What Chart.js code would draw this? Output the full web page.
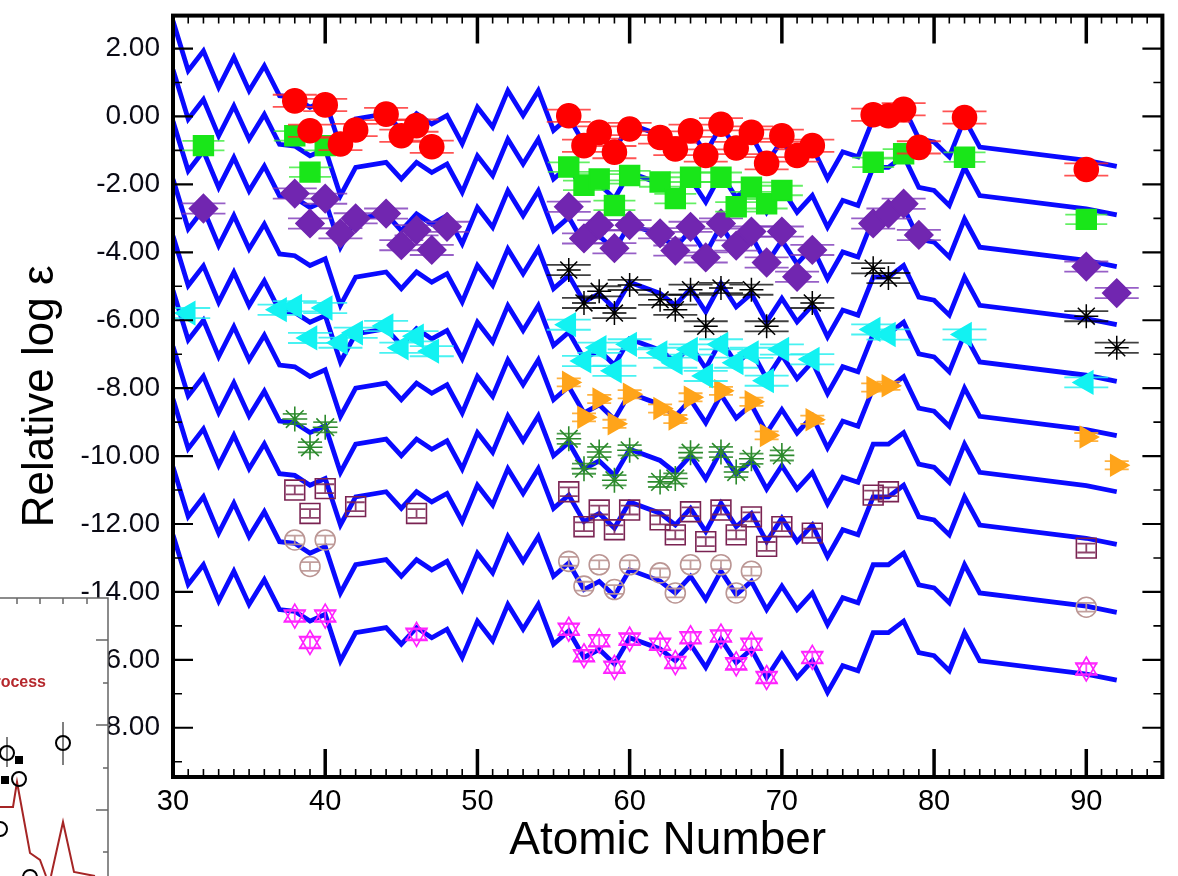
<!DOCTYPE html>
<html>
<head>
<meta charset="utf-8">
<script src="https://cdn.jsdelivr.net/npm/chart.js@4.4.1/dist/chart.umd.min.js"></script>
<style>
  html, body { margin: 0; padding: 0; background: #fff; overflow: hidden; }
  canvas { display: block; }
</style>
</head>
<body>
<canvas id="abund" width="1178" height="876"></canvas>
<script>
// atomic numbers used by the scaled solar r-process curves
const zGrid = [30,31,32,33,34,35,36,37,38,39,40,41,42,
  44,45,46,47,48,49,50,51,52,53,54,55,56,57,58,59,60,
  62,63,64,65,66,67,68,69,70,71,72,73,74,75,76,77,78,79,80,81,82,83,
  90,92];
// bottom curve
const rPattern = [-12.32,-13.78,-13.20,-14.27,-13.39,-14.37,-13.64,-14.52,-14.57,-14.86,-14.66,-16.03,-15.20,
  -15.05,-15.54,-15.05,-15.35,-15.10,-15.93,-14.86,-15.44,-14.37,-15.10,-14.37,-15.54,-15.15,-15.93,-15.69,-16.12,-15.35,
  -15.68,-16.03,-15.54,-16.22,-15.39,-16.08,-15.69,-16.52,-15.83,-16.52,-16.03,-16.96,-16.17,-16.32,-15.20,-15.20,-14.86,-15.79,-15.88,-16.32,-15.20,-16.03,
  -16.42,-16.60];
// vertical shift of each of the ten curves above the bottom one
const curveShift = [15.13, 13.70, 12.18, 10.47, 8.80, 7.20, 5.55, 4.00, 2.00, 0];

const redZ = [38,39,40,41,42,44,45,46,47,56,57,58,59,60,62,63,64,65,66,67,68,69,70,71,72,76,77,78,79,82,90];
const redV = [0.46,-0.42,0.34,-0.81,-0.40,0.07,-0.57,-0.27,-0.89,0.02,-0.86,-0.47,-1.05,-0.37,-0.62,-0.96,-0.42,-1.15,-0.23,-0.93,-0.47,-1.38,-0.57,-1.15,-0.86,0.05,0.02,0.21,-0.91,-0.03,-1.56];

const greenZ = [32,38,39,40,56,57,58,59,60,62,63,64,66,67,68,69,70,76,78,82,90];
const greenV = [-0.86,-0.57,-1.64,-0.86,-1.49,-2.03,-1.84,-2.62,-1.74,-1.93,-2.42,-1.79,-1.79,-2.66,-2.08,-2.57,-2.18,-1.35,-1.10,-1.20,-3.03];

const purpleZ = [32,38,39,40,41,42,44,45,46,47,48,56,57,58,59,60,62,63,64,65,66,67,68,69,70,71,72,76,77,78,79,90,92];
const purpleV = [-2.71,-2.27,-3.15,-2.42,-3.44,-3.00,-2.86,-3.79,-3.35,-3.93,-3.25,-2.66,-3.59,-3.20,-3.88,-3.20,-3.44,-3.95,-3.25,-4.15,-3.15,-3.80,-3.39,-4.30,-3.39,-4.72,-3.93,-3.15,-2.86,-2.57,-3.49,-4.42,-5.20];

const blackZ = [56,57,58,59,60,62,63,64,65,66,68,69,72,76,77,90,92];
const blackV = [-4.52,-5.49,-5.15,-5.79,-4.96,-5.40,-5.69,-5.10,-6.18,-5.05,-5.10,-6.18,-5.49,-4.47,-4.76,-5.88,-6.81];

const cyanZ = [31,37,38,39,40,41,42,44,45,46,47,56,57,58,59,60,62,63,64,65,66,67,68,69,70,72,76,77,82,90];
const cyanV = [-5.79,-5.69,-5.59,-6.52,-5.64,-6.66,-6.37,-6.17,-6.81,-6.47,-6.91,-6.13,-7.20,-6.81,-7.49,-6.71,-6.96,-7.25,-6.86,-7.64,-6.71,-7.25,-6.96,-7.78,-6.86,-7.15,-6.27,-6.42,-6.42,-7.83];

const orangeZ = [56,57,58,59,60,62,63,64,66,68,69,72,76,77,90,92];
const orangeV = [-7.83,-8.86,-8.32,-9.05,-8.18,-8.60,-8.91,-8.27,-8.08,-8.40,-9.39,-8.93,-7.98,-7.93,-9.44,-10.27];

const dgreenZ = [38,39,40,56,57,58,59,60,62,63,64,66,67,68,70];
const dgreenV = [-8.91,-9.74,-9.15,-9.49,-10.37,-9.88,-10.71,-9.83,-10.76,-10.66,-9.90,-9.88,-10.47,-10.08,-9.98];

const maroonZ = [38,39,40,42,46,56,57,58,59,60,62,63,64,65,66,67,68,69,70,72,76,77,90];
const maroonV = [-11.00,-11.69,-10.96,-11.49,-11.69,-11.05,-12.08,-11.59,-12.17,-11.59,-11.88,-12.32,-11.64,-12.52,-11.59,-12.32,-11.79,-12.66,-12.08,-12.27,-11.15,-11.05,-12.71];

const brownZ = [38,39,40,56,57,58,59,60,62,63,64,66,67,68,90];
const brownV = [-12.47,-13.25,-12.47,-13.10,-13.83,-13.20,-13.93,-13.20,-13.44,-14.03,-13.20,-13.20,-14.03,-13.39,-14.45];

const magentaZ = [38,39,40,46,56,57,58,59,60,62,63,64,66,67,68,69,72,90];
const magentaV = [-14.71,-15.49,-14.71,-15.25,-15.10,-15.88,-15.44,-16.22,-15.39,-15.54,-16.08,-15.35,-15.30,-16.12,-15.54,-16.52,-15.93,-16.27];

const xTickValues = [30,40,50,60,70,80,90];
const yTickValues = [-18,-16,-14,-12,-10,-8,-6,-4,-2,0,2];

Chart.defaults.font.family = "'Liberation Sans', Arial, Helvetica, sans-serif";

const pts = (zs, vs) => zs.map((z, i) => ({ x: z, y: vs[i] }));

function markers(zs, vs, o) {
  return Object.assign({
    type: 'scatter',
    data: pts(zs, vs),
    order: 1,
    pointBorderWidth: 1.6,
    pointHoverRadius: o.pointRadius
  }, o);
}

const datasets = [
  markers(redZ, redV, { pointStyle: 'circle', pointRadius: 12, backgroundColor: '#ff0000', borderColor: '#ff0000', errY: 0.18, capW: 22, errColor: 'rgba(255,40,40,0.8)' }),
  markers(greenZ, greenV, { pointStyle: 'rect', pointRadius: 14, backgroundColor: '#19e619', borderColor: '#19e619', errY: 0.14, capW: 21, errColor: 'rgba(60,235,60,0.8)' }),
  markers(purpleZ, purpleV, { pointStyle: 'rectRot', pointRadius: 14, backgroundColor: '#7126b0', borderColor: '#7126b0', errY: 0.15, capW: 22, errColor: 'rgba(125,55,185,0.8)' }),
  markers(blackZ, blackV, { pointStyle: 'star', pointRadius: 12, backgroundColor: '#000', borderColor: '#000', pointBorderWidth: 1.5, errY: 0.15, capW: 22, errColor: 'rgba(0,0,0,0.75)' }),
  markers(cyanZ, cyanV, { pointStyle: 'triangle', rotation: -90, pointRadius: 13, backgroundColor: '#12f2f2', borderColor: '#12f2f2', errY: 0.15, capW: 22, errColor: 'rgba(40,240,240,0.85)' }),
  markers(orangeZ, orangeV, { pointStyle: 'triangle', rotation: 90, pointRadius: 12, backgroundColor: '#ffa41a', borderColor: '#ffa41a', errY: 0.12, capW: 12, errColor: 'rgba(255,165,30,0.85)' }),
  markers(dgreenZ, dgreenV, { pointStyle: 'star', pointRadius: 12.5, backgroundColor: '#2c8a2c', borderColor: '#2c8a2c', pointBorderWidth: 1.6, errY: 0.15, capW: 12, errColor: 'rgba(44,138,44,0.85)' }),
  markers(maroonZ, maroonV, { pointStyle: 'rect', pointRadius: 14, backgroundColor: 'rgba(0,0,0,0)', borderColor: '#7a2352', errY: 0.13, capW: 9, errColor: 'rgba(122,35,82,0.85)' }),
  markers(brownZ, brownV, { pointStyle: 'circle', pointRadius: 10, backgroundColor: 'rgba(0,0,0,0)', borderColor: '#bb9694', errY: 0.13, capW: 9, errColor: 'rgba(187,150,148,0.9)' }),
  markers(magentaZ, magentaV, { pointStyle: 'triangle', rotation: 0, pointRadius: 12, backgroundColor: 'rgba(0,0,0,0)', borderColor: '#ff20ff', errY: 0.15, capW: 11, errColor: 'rgba(255,40,255,0.85)' }),
  markers(magentaZ, magentaV, { pointStyle: 'triangle', rotation: 180, pointRadius: 12, backgroundColor: 'rgba(0,0,0,0)', borderColor: '#ff20ff' })
];

curveShift.forEach(s => {
  datasets.push({
    type: 'scatter',
    showLine: true,
    data: zGrid.map((z, i) => ({ x: z, y: rPattern[i] + s })),
    borderColor: '#0a0aff',
    borderWidth: 4.8,
    pointRadius: 0,
    pointHoverRadius: 0,
    borderJoinStyle: 'miter',
    order: 2
  });
});

// error bars sit under each series' own markers but above the curves
const errorBars = {
  id: 'errorBars',
  beforeDatasetDraw(chart, args) {
    const ds = chart.data.datasets[args.index];
    if (!ds.errY) return;
    const { ctx, scales: { y } } = chart;
    const area = chart.chartArea;
    ctx.save();
    ctx.beginPath();
    ctx.rect(area.left, area.top, area.right - area.left, area.bottom - area.top);
    ctx.clip();
    ctx.strokeStyle = ds.errColor;
    ctx.lineWidth = 1.8;
    args.meta.data.forEach((pt, j) => {
      const v = ds.data[j].y;
      const t = y.getPixelForValue(v + ds.errY);
      const b = y.getPixelForValue(v - ds.errY);
      ctx.beginPath();
      ctx.moveTo(pt.x - ds.capW, t); ctx.lineTo(pt.x + ds.capW, t);
      ctx.moveTo(pt.x - ds.capW, b); ctx.lineTo(pt.x + ds.capW, b);
      ctx.moveTo(pt.x, t); ctx.lineTo(pt.x, b);
      ctx.stroke();
    });
    ctx.restore();
  }
};

// box frame with inward major/minor ticks on all four sides
const frameTicks = {
  id: 'frameTicks',
  afterDraw(chart) {
    const { ctx, chartArea: a, scales: { x, y } } = chart;
    ctx.save();
    ctx.strokeStyle = '#000';
    for (let z = 31; z < 95; z++) {
      const px = x.getPixelForValue(z);
      const major = z % 10 === 0;
      const len = major ? 28 : 8;
      ctx.lineWidth = major ? 3.5 : 1.6;
      ctx.beginPath();
      ctx.moveTo(px, a.bottom); ctx.lineTo(px, a.bottom - len);
      ctx.moveTo(px, a.top); ctx.lineTo(px, a.top + len);
      ctx.stroke();
    }
    for (let v = -19; v <= 2; v++) {
      const py = y.getPixelForValue(v);
      const major = v % 2 === 0;
      const len = major ? 20 : 9;
      ctx.lineWidth = major ? 2.2 : 1.6;
      ctx.beginPath();
      ctx.moveTo(a.left, py); ctx.lineTo(a.left + len, py);
      ctx.moveTo(a.right, py); ctx.lineTo(a.right - len, py);
      ctx.stroke();
    }
    ctx.lineWidth = 4;
    ctx.strokeRect(a.left, a.top, a.right - a.left, a.bottom - a.top);
    ctx.restore();
  }
};

// corner of a neighbouring figure that overlaps the bottom-left of this one
const insetCorner = {
  id: 'insetCorner',
  afterDraw(chart) {
    const ctx = chart.ctx;
    ctx.save();
    ctx.fillStyle = '#fff';
    ctx.fillRect(0, 598, 108, 278);
    ctx.strokeStyle = '#666';
    ctx.lineWidth = 1.5;
    ctx.beginPath();
    ctx.moveTo(0, 598); ctx.lineTo(108, 598); ctx.lineTo(108, 876);
    [17, 40, 63, 87].forEach(t => { ctx.moveTo(t, 598); ctx.lineTo(t, 604); });
    [[640, 12], [683, 5], [725, 12], [768, 5], [810, 12], [852, 5]].forEach(([t, l]) => { ctx.moveTo(108, t); ctx.lineTo(108 - l, t); });
    ctx.stroke();
    ctx.fillStyle = '#b5282d';
    ctx.font = 'bold 16px "Liberation Sans", Arial, sans-serif';
    ctx.textAlign = 'right';
    ctx.textBaseline = 'middle';
    ctx.fillText('r-process', 46, 683);
    ctx.strokeStyle = '#a52525';
    ctx.lineWidth = 2;
    ctx.beginPath();
    ctx.moveTo(0, 807); ctx.lineTo(13, 807); ctx.lineTo(17, 782); ctx.lineTo(30, 853); ctx.lineTo(40, 860); ctx.lineTo(46, 876);
    ctx.moveTo(51, 876); ctx.lineTo(63, 822); ctx.lineTo(74, 872); ctx.lineTo(95, 876);
    ctx.stroke();
    ctx.strokeStyle = '#000';
    ctx.lineWidth = 2;
    [[7, 753, 737, 767], [19, 779, 0, 0], [63, 743, 722, 765], [0, 829, 0, 0], [30, 877, 0, 0]].forEach(([cx, cy, e1, e2]) => {
      ctx.beginPath();
      ctx.arc(cx, cy, 7, 0, Math.PI * 2);
      ctx.stroke();
      if (e1) {
        ctx.lineWidth = 1;
        ctx.beginPath(); ctx.moveTo(cx, e1); ctx.lineTo(cx, e2); ctx.stroke();
        ctx.lineWidth = 2;
      }
    });
    ctx.fillStyle = '#000';
    ctx.fillRect(15, 756, 8, 8);
    ctx.fillRect(1, 776, 8, 8);
    ctx.restore();
  }
};

new Chart(document.getElementById('abund'), {
  type: 'scatter',
  data: { datasets },
  options: {
    responsive: false,
    animation: false,
    layout: { padding: { top: 10, right: 11, left: 0, bottom: 0 } },
    plugins: { legend: { display: false }, tooltip: { enabled: false } },
    scales: {
      x: {
        type: 'linear',
        min: 30,
        max: 95,
        grid: { display: false, drawTicks: false },
        border: { display: false },
        afterBuildTicks: s => { s.ticks = xTickValues.map(v => ({ value: v })); },
        afterFit: s => { s.height = 99; s.paddingLeft = 0; s.paddingRight = 0; },
        ticks: { padding: 8, color: '#000', font: { size: 29 }, maxRotation: 0, autoSkip: false },
        title: { display: true, text: 'Atomic Number', color: '#000', font: { size: 46 }, padding: { top: 0, bottom: 7 } }
      },
      y: {
        type: 'linear',
        min: -19.45,
        max: 2.97,
        grid: { display: false, drawTicks: false },
        border: { display: false },
        afterBuildTicks: s => { s.ticks = yTickValues.map(v => ({ value: v })); },
        afterFit: s => { s.width = 173; s.paddingTop = 0; s.paddingBottom = 0; },
        ticks: { padding: 13, color: '#0a0a14', font: { size: 28 }, autoSkip: false, callback: v => Number(v).toFixed(2) },
        title: { display: true, text: 'Relative log ε', color: '#000', font: { size: 44 }, padding: { top: 14, bottom: 0 } }
      }
    }
  },
  plugins: [errorBars, frameTicks, insetCorner]
});
</script>
</body>
</html>
